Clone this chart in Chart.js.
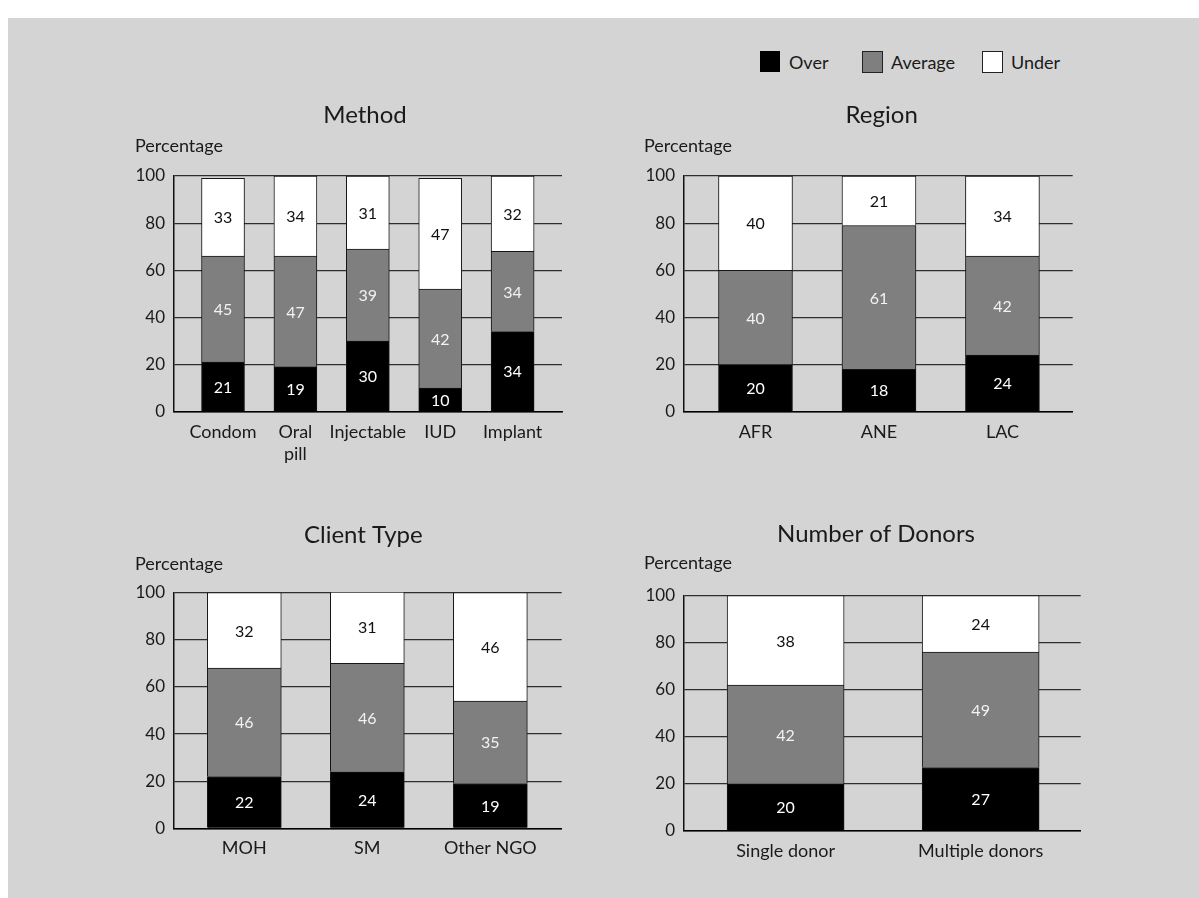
<!DOCTYPE html>
<html>
<head>
<meta charset="utf-8">
<script src="https://cdn.jsdelivr.net/npm/chart.js@4.4.0/dist/chart.umd.min.js"></script>
<style>
  html, body { margin: 0; padding: 0; background: #ffffff; }
  body { width: 1199px; height: 898px; position: relative; overflow: hidden; font-family: Lato, "Open Sans", sans-serif; color: #1a1a1a; }
  #panel { position: absolute; left: 8px; top: 18px; width: 1191px; height: 880px; background: #d4d4d4; }
  canvas { position: absolute; }
  .legend-box { position: absolute; width: 19px; height: 20px; border: 1px solid #222; box-sizing: content-box; }
  .legend-text { position: absolute; font-size: 18px; line-height: 22px; color: #1a1a1a; white-space: nowrap; }
</style>
</head>
<body>
<div id="panel"></div>

<div class="legend-box" style="left:760px; top:51px; background:#000000; width:20px; height:21px; border:none;"></div>
<div class="legend-text" style="left:789px; top:51px;">Over</div>
<div class="legend-box" style="left:862px; top:51px; background:#7f7f7f;"></div>
<div class="legend-text" style="left:891px; top:51px;">Average</div>
<div class="legend-box" style="left:982px; top:51px; background:#ffffff;"></div>
<div class="legend-text" style="left:1011px; top:51px;">Under</div>

<canvas id="methodChart" width="460" height="380" style="left:120px; top:90px;"></canvas>
<canvas id="regionChart" width="470" height="380" style="left:630px; top:90px;"></canvas>
<canvas id="clientChart" width="460" height="380" style="left:120px; top:500px;"></canvas>
<canvas id="donorChart" width="470" height="380" style="left:630px; top:500px;"></canvas>

<script>
// Percentage of programs over, at and under average cost, by grouping
const methodCategories = ['Condom', ['Oral', 'pill'], 'Injectable', 'IUD', 'Implant'];
const methodOver    = [21, 19, 30, 10, 34];
const methodAverage = [45, 47, 39, 42, 34];
const methodUnder   = [33, 34, 31, 47, 32];

const regionCategories = ['AFR', 'ANE', 'LAC'];
const regionOver    = [20, 18, 24];
const regionAverage = [40, 61, 42];
const regionUnder   = [40, 21, 34];

const clientCategories = ['MOH', 'SM', 'Other NGO'];
const clientOver    = [22, 24, 19];
const clientAverage = [46, 46, 35];
const clientUnder   = [32, 31, 46];

const donorCategories = ['Single donor', 'Multiple donors'];
const donorOver    = [20, 27];
const donorAverage = [42, 49];
const donorUnder   = [38, 24];

const seriesNames = ['Over', 'Average', 'Under'];
const yTickMin = 0;
const yTickMax = 100;
const yTickStep = 20;
const yAxisLabel = 'Percentage';

const FONT = 'Lato, "Open Sans", sans-serif';
const TEXT = '#1a1a1a';

// Writes each segment's value in the middle of its bar piece
const segmentValues = {
  id: 'segmentValues',
  afterDatasetsDraw(chart) {
    const ctx = chart.ctx;
    ctx.save();
    ctx.font = '16px ' + FONT;
    ctx.textAlign = 'center';
    ctx.textBaseline = 'middle';
    chart.data.datasets.forEach((ds, di) => {
      const meta = chart.getDatasetMeta(di);
      meta.data.forEach((bar, i) => {
        const p = bar.getProps(['x', 'y', 'base'], true);
        ctx.fillStyle = ds.valueColor;
        ctx.fillText(String(ds.data[i].y), p.x, (p.y + p.base) / 2 + 1);
      });
    });
    ctx.restore();
  }
};

// Panel heading and the axis caption above the value axis
const panelText = {
  id: 'panelText',
  afterDraw(chart, args, opts) {
    const ctx = chart.ctx;
    ctx.save();
    ctx.fillStyle = TEXT;
    ctx.textBaseline = 'middle';
    ctx.font = '24px ' + FONT;
    ctx.textAlign = 'center';
    ctx.fillText(opts.title, opts.titleX, opts.titleY);
    ctx.font = '18px ' + FONT;
    ctx.textAlign = 'left';
    ctx.fillText(opts.axisLabel, opts.axisX, opts.axisY);
    ctx.restore();
  }
};

function buildChart(id, categories, over, average, under, layout) {
  const toPoints = arr => arr.map((v, i) => ({ x: i, y: v }));
  const series = [over, average, under];
  const fills = ['#000000', '#7f7f7f', '#ffffff'];
  const valueColors = ['#ffffff', '#f2f2f2', '#111111'];
  const canvas = document.getElementById(id);
  const W = canvas.width, H = canvas.height;
  const p = layout.plot;

  return new Chart(canvas, {
    type: 'bar',
    data: {
      datasets: series.map((arr, k) => ({
        label: seriesNames[k],
        data: toPoints(arr),
        backgroundColor: fills[k],
        borderColor: '#151515',
        borderWidth: 1,
        barThickness: layout.barWidth,
        valueColor: valueColors[k]
      }))
    },
    options: {
      responsive: false,
      animation: false,
      devicePixelRatio: 1,
      layout: { padding: { left: 0, top: p.top, right: W - p.right, bottom: 0 } },
      plugins: {
        legend: { display: false },
        title: { display: false },
        tooltip: { enabled: false },
        panelText: {
          title: layout.title, titleX: layout.titleX, titleY: layout.titleY,
          axisLabel: yAxisLabel, axisX: layout.axisX, axisY: layout.axisY
        }
      },
      scales: {
        x: {
          type: 'linear',
          stacked: true,
          offset: false,
          min: layout.xMin,
          max: layout.xMax,
          afterFit: s => { s.height = H - p.bottom; },
          grid: { display: false, drawTicks: false, offset: false },
          border: { display: true, color: '#000000', width: 1.5 },
          ticks: {
            stepSize: 1,
            autoSkip: false,
            includeBounds: false,
            maxRotation: 0,
            minRotation: 0,
            padding: 9,
            color: TEXT,
            font: { family: FONT, size: 18, lineHeight: 1.25 },
            callback: v => (Number.isInteger(v) && categories[v] !== undefined) ? categories[v] : ''
          }
        },
        y: {
          stacked: true,
          min: yTickMin,
          max: yTickMax,
          afterFit: s => { s.width = p.left; },
          grid: { color: '#2e2e2e', lineWidth: 1.2, drawTicks: false },
          border: { display: true, color: '#111111', width: 1.5 },
          ticks: {
            stepSize: yTickStep,
            padding: 9,
            color: TEXT,
            font: { family: FONT, size: 17 }
          }
        }
      }
    },
    plugins: [segmentValues, panelText]
  });
}

buildChart('methodChart', methodCategories, methodOver, methodAverage, methodUnder, {
  plot: { left: 54, right: 442, top: 86, bottom: 321.7 },
  xMin: -0.677, xMax: 4.682, barWidth: 43,
  title: 'Method', titleX: 245, titleY: 25, axisX: 15, axisY: 56
});

buildChart('regionChart', regionCategories, regionOver, regionAverage, regionUnder, {
  plot: { left: 54, right: 442.7, top: 86, bottom: 321.7 },
  xMin: -0.579, xMax: 2.569, barWidth: 74,
  title: 'Region', titleX: 251.7, titleY: 25, axisX: 14, axisY: 56
});

buildChart('clientChart', clientCategories, clientOver, clientAverage, clientUnder, {
  plot: { left: 54, right: 441.7, top: 92.7, bottom: 328.3 },
  xMin: -0.5715, xMax: 2.58, barWidth: 74,
  title: 'Client Type', titleX: 243.3, titleY: 35, axisX: 15, axisY: 64
});

buildChart('donorChart', donorCategories, donorOver, donorAverage, donorUnder, {
  plot: { left: 54, right: 450.7, top: 95.7, bottom: 331 },
  xMin: -0.521, xMax: 1.513, barWidth: 117,
  title: 'Number of Donors', titleX: 246, titleY: 34, axisX: 14, axisY: 63.3
});
</script>
</body>
</html>
